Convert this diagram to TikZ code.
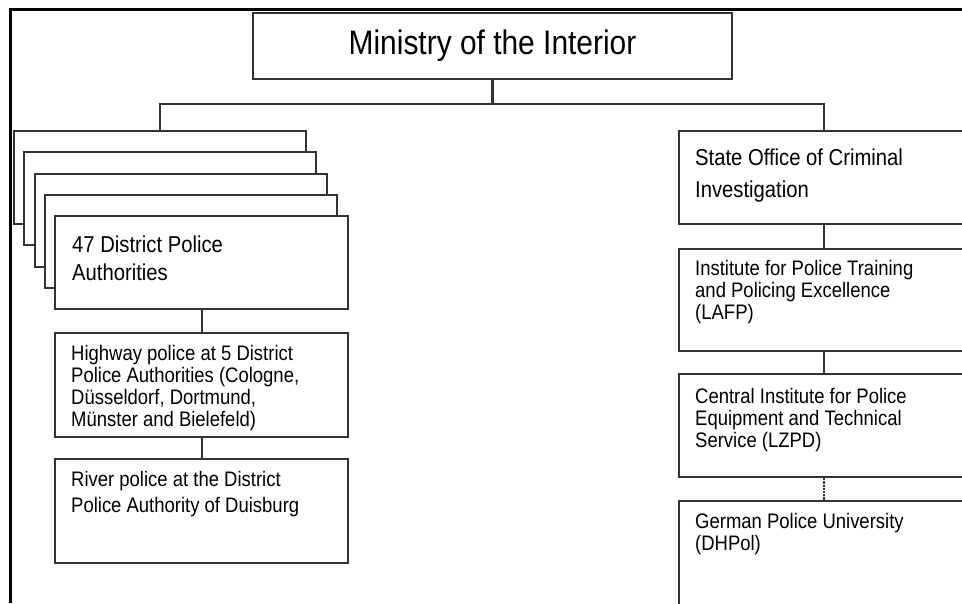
\documentclass[tikz,border=0pt]{standalone}
\usepackage{fontspec}
\setmainfont{Liberation Sans}[FakeStretch=0.88]
\usetikzlibrary{positioning}

\tikzset{
  unit/.style={draw=black!80, line width=2.2pt, fill=white, anchor=north west, inner sep=0pt, minimum width=290pt},
  bigtxt/.style={anchor=base west, align=left, inner sep=0pt, font=\fontsize{23}{28}\selectfont},
  smalltxt/.style={anchor=base west, align=left, inner sep=0pt, font=\fontsize{21}{22}\selectfont},
  link/.style={draw=black!80, line width=2.2pt},
}

\begin{document}
\begin{tikzpicture}[x=1pt,y=-1pt]
\useasboundingbox (0,0) rectangle (962,603);
\clip (0,0) rectangle (962,603);
% page frame
\draw[line width=3.2pt] (10.5,603) -- (10.5,9.5) -- (962,9.5);

% top
\node[unit, anchor=center, minimum width=479pt, minimum height=66pt, font=\fontsize{34}{40}\selectfont] (ministry) at (492.5,46) {Ministry of the Interior};

% district police authorities, stacked
\foreach \i in {0,...,3}
  \node[unit, minimum width=292pt, minimum height=93pt] (dpa\i) at (13+10.25*\i, 130+21.25*\i) {};
\node[unit, minimum width=293pt, minimum height=93pt] (dpa) at (54,215) {};
\node[bigtxt] (dpa-txt) at (72,280) {47 District Police\\Authorities};

\node[unit, minimum width=293pt, minimum height=104pt] (hwy) at (54,332) {};
\node[smalltxt] (hwy-txt) at (71,426) {Highway police at 5 District\\Police Authorities (Cologne,\\Düsseldorf, Dortmund,\\Münster and Bielefeld)};

\node[unit, minimum width=293pt, minimum height=104pt] (river) at (54,458) {};
\node[smalltxt, font=\fontsize{21}{26}\selectfont] (river-txt) at (71,512) {River police at the District\\Police Authority of Duisburg};

% state level offices
\node[unit, minimum height=93pt] (lka) at (678,130) {};
\node[bigtxt, font=\fontsize{23}{32}\selectfont] (lka-txt) at (695,197) {State Office of Criminal\\Investigation};

\node[unit, minimum height=102pt] (lafp) at (678,248) {};
\node[smalltxt] (lafp-txt) at (695,319) {Institute for Police Training\\and Policing Excellence\\(LAFP)};

\node[unit, minimum height=103pt] (lzpd) at (678,373) {};
\node[smalltxt] (lzpd-txt) at (695,447) {Central Institute for Police\\Equipment and Technical\\Service (LZPD)};

\node[unit, minimum height=130pt] (dhpol) at (678,500) {};
\node[smalltxt] (dhpol-txt) at (695,550) {German Police University\\(DHPol)};

% connectors
\coordinate (fork) at (492.5,104);
\draw[link] (ministry.south) -- (fork);
\draw[link] (fork) -| (dpa0.north);
\draw[link] (fork) -| (lka.north);
\draw[link] (dpa.south) -- (hwy.north);
\draw[link] (hwy.south) -- (river.north);
\draw[link] (lka.south) -- (lafp.north);
\draw[link] (lafp.south) -- (lzpd.north);
\draw[link, densely dotted] (lzpd.south) -- (dhpol.north);
\end{tikzpicture}
\end{document}
